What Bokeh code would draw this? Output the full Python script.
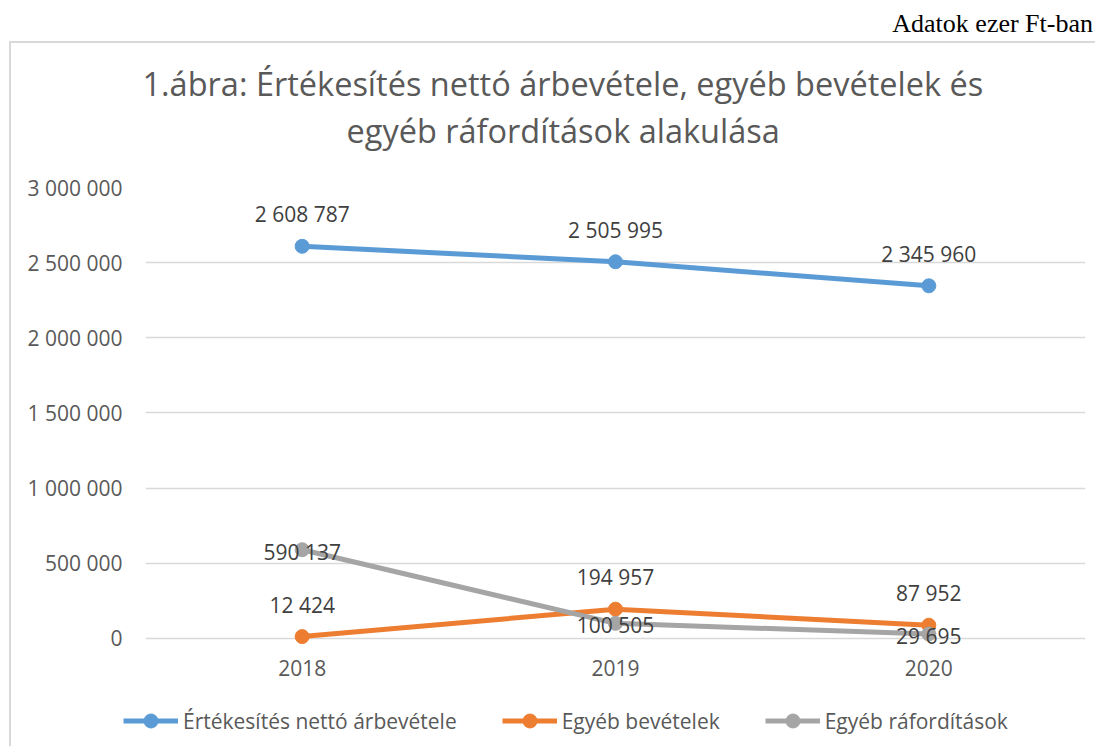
from bokeh.plotting import figure
from bokeh.models import (ColumnDataSource, Range1d, FactorRange, Title, Div,
                          Legend, LegendItem)
from bokeh.layouts import column
from bokeh.embed import file_html
from bokeh.resources import INLINE
from bokeh.core.properties import value

# ---------------- data ----------------
years = ["2018", "2019", "2020"]
netto_arbevetel = [2608787, 2505995, 2345960]
egyeb_bevetelek = [12424, 194957, 87952]
egyeb_raforditasok = [590137, 100505, 29695]
series_names = ["Értékesítés nettó árbevétele", "Egyéb bevételek", "Egyéb ráfordítások"]
y_ticks = [0, 500000, 1000000, 1500000, 2000000, 2500000, 3000000]
y_tick_labels = ["0", "500 000", "1 000 000", "1 500 000", "2 000 000", "2 500 000", "3 000 000"]
title_lines = ["1.ábra: Értékesítés nettó árbevétele, egyéb bevételek és",
               "egyéb ráfordítások alakulása"]
unit_note = "Adatok ezer Ft-ban"

colors = ["#5B9BD5", "#ED7D31", "#A5A5A5"]
FONT = "Open Sans"
TXT = "#595959"


def fmt(v):
    return f"{v:,}".replace(",", " ")


# note above the chart box
note_div = Div(text=unit_note, width=1093, height=41, margin=(0, 0, 0, 0),
               styles={"font-family": "Liberation Serif", "font-size": "26px",
                       "color": "black", "text-align": "right", "line-height": "48px"})

# ---------------- main chart ----------------
W, H = 1086, 650
p = figure(width=W, height=H,
           x_range=FactorRange(*years, range_padding=0),
           y_range=Range1d(-100000, 3000000),
           output_backend="svg", toolbar_location=None,
           min_border_left=134, min_border_right=12,
           min_border_top=144, min_border_bottom=40)
p.outline_line_color = None
p.background_fill_color = "white"
p.border_fill_color = "white"

# title (two lines); a spacer keeps distance to the frame
p.title.text = title_lines[0]
p.title.align = "left"
p.title.offset = -3
p.title.standoff = 0
p.title.text_font = FONT
p.title.text_font_size = "32.5px"
p.title.text_font_style = "normal"
p.title.text_color = TXT
p.add_layout(Title(text=" ", standoff=19, text_font=FONT, text_font_size="10px",
                   text_color=TXT), "above")
p.add_layout(Title(text=title_lines[1], align="left", offset=201, standoff=0,
                   text_font=FONT, text_font_size="32.5px", text_font_style="normal",
                   text_color=TXT), "above")

# axes
p.yaxis.ticker = y_ticks
p.yaxis.major_label_overrides = {t: l for t, l in zip(y_ticks, y_tick_labels)}
for ax in (p.xaxis, p.yaxis):
    ax.axis_line_color = None
    ax.major_tick_line_color = None
    ax.minor_tick_line_color = None
    ax.major_tick_in = 0
    ax.major_tick_out = 0
    ax.major_label_text_font = FONT
    ax.major_label_text_font_size = "21px"
    ax.major_label_text_color = TXT
p.yaxis.major_label_standoff = 23
p.xaxis.major_label_standoff = 6

p.xgrid.grid_line_color = None
p.ygrid.grid_line_color = "#D9D9D9"
p.ygrid.grid_line_width = 1.5

# series
all_values = [netto_arbevetel, egyeb_bevetelek, egyeb_raforditasok]
sources = []
for name, vals, col in zip(series_names, all_values, colors):
    src = ColumnDataSource(dict(x=years, y=vals, t=[fmt(v) for v in vals]))
    p.line("x", "y", source=src, line_color=col, line_width=5, line_join="round")
    p.scatter("x", "y", source=src, size=14, fill_color=col, line_color=col)
    sources.append(src)

# data labels
for i, src in enumerate(sources):
    yoff = 2 if i == 2 else -32
    p.text("x", "y", text="t", source=src, text_align="center", text_baseline="middle",
           y_offset=yoff, text_font=value(FONT), text_font_size="21px", text_color="#404040")

# ---------------- legend strip (same series, their values lie outside its view) ----------------
leg = figure(width=W, height=55, x_range=FactorRange(*years, range_padding=0),
             y_range=Range1d(10000000, 11000000),
             output_backend="svg", toolbar_location=None,
             x_axis_location=None, y_axis_location=None,
             min_border_left=0, min_border_right=0, min_border_top=0, min_border_bottom=0)
leg.styles = {"transform": "translateX(-22px)"}
leg.outline_line_color = None
leg.background_fill_alpha = 0
leg.border_fill_alpha = 0
leg.xgrid.visible = False
leg.ygrid.visible = False
leg_items = []
for name, src, col in zip(series_names, sources, colors):
    lr = leg.line("x", "y", source=src, line_color=col, line_width=5)
    sr = leg.scatter("x", "y", source=src, size=14, fill_color=col, line_color=col)
    leg_items.append(LegendItem(label=name, renderers=[lr, sr], index=0))
legend = Legend(items=leg_items, orientation="horizontal", location=(0, 10),
                glyph_width=55, glyph_height=35, label_standoff=5, spacing=45,
                padding=0, margin=0,
                label_text_font=FONT, label_text_font_size="21px", label_text_color=TXT,
                border_line_color=None, background_fill_alpha=0)
leg.add_layout(legend)

chart_box = column(p, leg, spacing=0)
chart_box.margin = (2, 0, 0, 11)
chart_box.styles = {"box-shadow": "-2px -2px 0 0 #D9D9D9"}

layout = column(note_div, chart_box, spacing=0)
open("out.html", "w").write(file_html(layout, INLINE))
